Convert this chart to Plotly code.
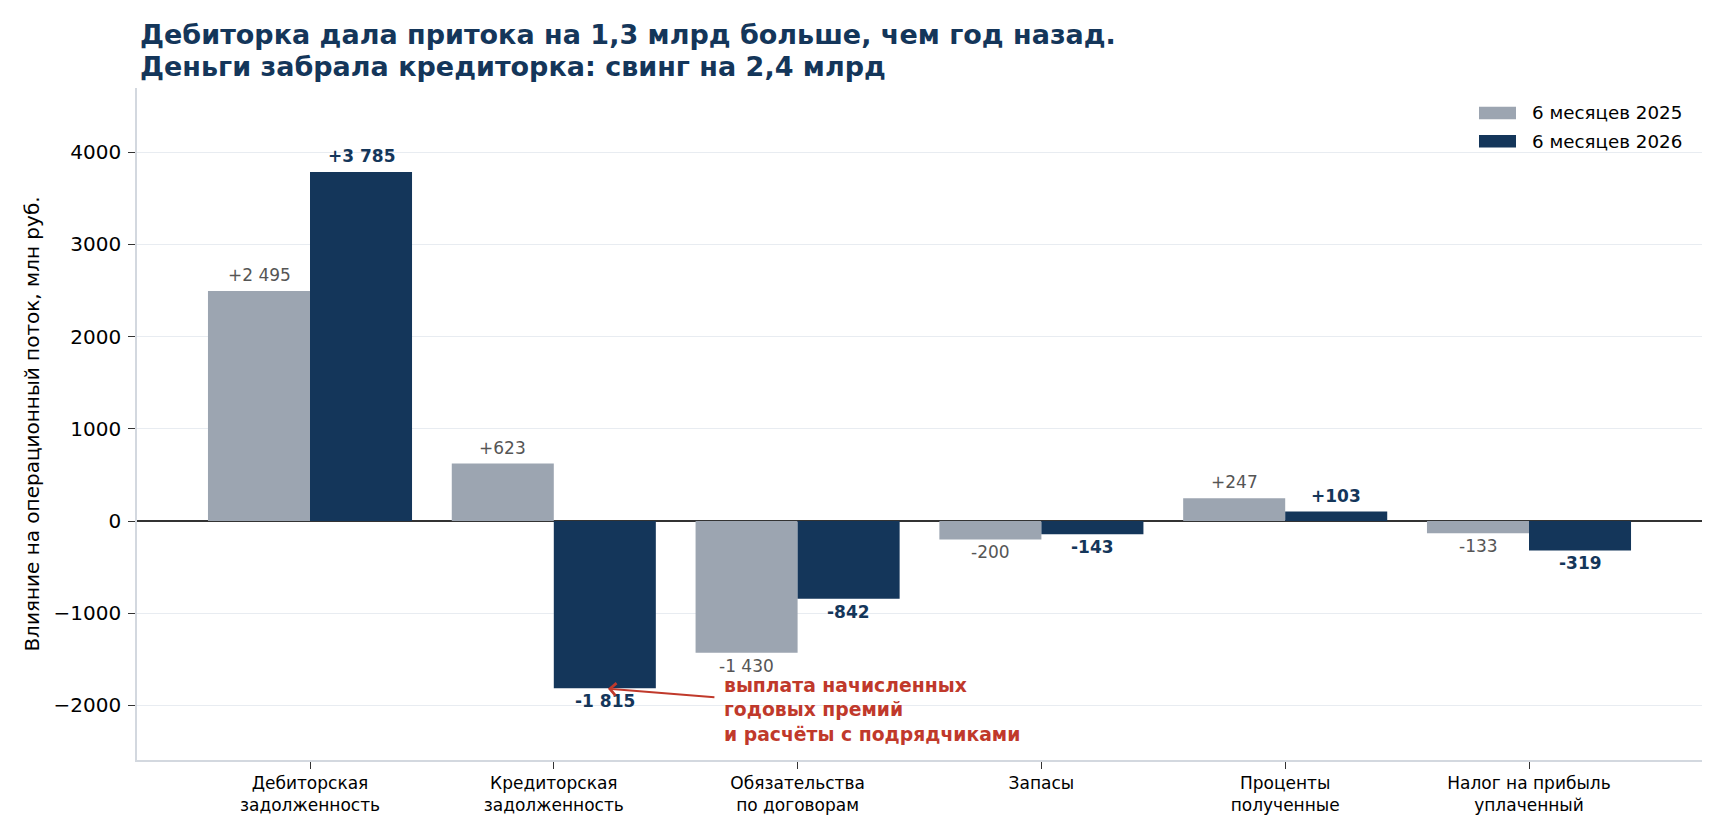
import plotly.graph_objects as go

categories = ["Дебиторская<br>задолженность", "Кредиторская<br>задолженность",
              "Обязательства<br>по договорам", "Запасы",
              "Проценты<br>полученные", "Налог на прибыль<br>уплаченный"]
values_2025 = [2495, 623, -1430, -200, 247, -133]
values_2026 = [3785, -1815, -842, -143, 103, -319]
series_names = ["6 месяцев 2025", "6 месяцев 2026"]
title_lines = ["Дебиторка дала притока на 1,3 млрд больше, чем год назад.",
               "Деньги забрала кредиторка: свинг на 2,4 млрд"]
note_text = "выплата начисленных<br>годовых премий<br>и расчёты с подрядчиками"
y_title = "Влияние на операционный поток, млн руб."
y_ticks = [-2000, -1000, 0, 1000, 2000, 3000, 4000]

GREY = "#9ca5b1"
NAVY = "#14365a"
RED = "#c0392b"
FONT = "DejaVu Sans"

# layout geometry (page pixels)
W, H = 1725, 840
ML, MR, MT, MB = 129, 31, 80, 88
PW = W - ML - MR
PH = H - MT - MB


def px_x(px):
    return (px - ML) / PW


def px_y(py):
    return (H - MB - py) / PH


def fmt(v):
    s = f"{abs(v):,}".replace(",", " ")
    return ("+" if v > 0 else "-") + s


x_idx = list(range(len(categories)))
BW = 0.4184

fig = go.Figure()
fig.add_trace(go.Bar(x=x_idx, y=values_2025, name=series_names[0],
                     marker=dict(color=GREY, line=dict(width=0)), showlegend=False))
fig.add_trace(go.Bar(x=x_idx, y=values_2026, name=series_names[1],
                     marker=dict(color=NAVY, line=dict(width=0)), showlegend=False))

# value labels
for vals, off, color, bold in [(values_2025, -BW / 2, "#555555", False),
                                (values_2026, BW / 2, NAVY, True)]:
    for i, v in enumerate(vals):
        t = fmt(v)
        if bold:
            t = f"<b>{t}</b>"
        fig.add_annotation(
            x=i + off, y=v, xref="x", yref="y", text=t, showarrow=False,
            xanchor="center", yanchor="middle",
            yshift=16 if v > 0 else -13,
            font=dict(family=FONT, size=17, color=color),
        )

fig.update_layout(
    width=W, height=H,
    paper_bgcolor="white", plot_bgcolor="white",
    font=dict(family=FONT, size=16, color="black"),
    barmode="group", bargap=0.163, bargroupgap=0,
    margin=dict(l=ML, r=MR, t=MT, b=MB, autoexpand=False),
    showlegend=False,
)

# title (two lines)
for line, py in zip(title_lines, [27, 58.2]):
    fig.add_annotation(
        x=px_x(130), y=px_y(py), xref="paper", yref="paper",
        text=f"<b>{line}</b>", showarrow=False, xanchor="left", yanchor="middle",
        font=dict(family=FONT, size=27, color=NAVY),
    )

# legend
for name, color, py in zip(series_names, [GREY, NAVY], [105, 133.3]):
    fig.add_shape(type="rect", xref="paper", yref="paper",
                  x0=px_x(1471), x1=px_x(1508),
                  y0=px_y(py + 6.3), y1=px_y(py - 6.3),
                  fillcolor=color, line=dict(width=0))
    fig.add_annotation(
        x=px_x(1522), y=px_y(py), xref="paper", yref="paper",
        text=name, showarrow=False, xanchor="left", yanchor="middle",
        font=dict(family=FONT, size=18.3, color="black"),
    )

# y axis title
fig.add_annotation(
    x=px_x(24), y=px_y(416.6), xref="paper", yref="paper",
    text=y_title, showarrow=False, textangle=-90,
    xanchor="center", yanchor="middle",
    font=dict(family=FONT, size=20, color="black"),
)

fig.update_xaxes(
    tickmode="array", tickvals=x_idx, ticktext=categories,
    range=[-0.7096, 5.7096],
    showline=True, linecolor="#d3d8df", linewidth=1.5,
    ticks="outside", ticklen=7, tickcolor="#333333", tickwidth=1.2,
    ticklabelstandoff=0,
    tickfont=dict(family=FONT, size=17, color="black"),
    showgrid=False, zeroline=False, automargin=False,
)
fig.update_yaxes(
    range=[-2592, 4696],
    tickvals=y_ticks,
    ticktext=[str(v).replace("-", "−") for v in y_ticks],
    showline=True, linecolor="#d3d8df", linewidth=1.5,
    ticks="outside", ticklen=7, tickcolor="#333333", tickwidth=1.2,
    ticklabelstandoff=3,
    tickfont=dict(family=FONT, size=20, color="black"),
    showgrid=True, gridcolor="#e8ecf1", gridwidth=1.3,
    zeroline=True, zerolinecolor="#333333", zerolinewidth=1.6,
    automargin=False,
)

# annotation note with arrow
fig.add_annotation(
    x=1.691, y=-2045, xref="x", yref="y",
    text=f"<b>{note_text}</b>", showarrow=False,
    xanchor="left", yanchor="middle", align="left",
    font=dict(family=FONT, size=18.8, color=RED),
)
fig.add_annotation(
    x=1.222, y=-1819, xref="x", yref="y",
    ax=1.665, ay=-1914, axref="x", ayref="y",
    text="", showarrow=True, arrowhead=4, arrowsize=1.2, arrowwidth=2,
    arrowcolor=RED,
)

fig.write_html("out.html")
